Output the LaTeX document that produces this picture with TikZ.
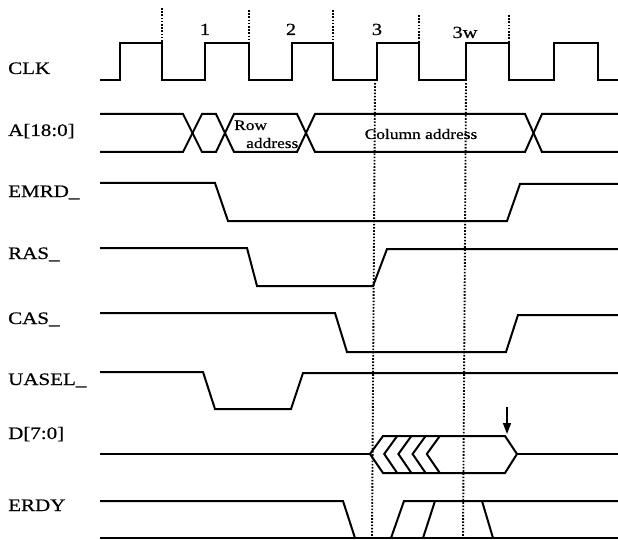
\documentclass[tikz,border=0pt]{standalone}
\usepackage{fontspec}
\setmainfont[FakeStretch=1.2,FakeBold=0.6]{Liberation Serif}
\usetikzlibrary{arrows.meta}
\tikzset{
  wave/.style={line width=2pt, line join=miter, black},
  guide/.style={line width=1.9pt, dash pattern=on 1.6pt off 1.6pt, black},
  siglabel/.style={anchor=base west, inner sep=0pt, font=\fontsize{17.5}{20}\selectfont},
  cyclabel/.style={anchor=base, inner sep=0pt, font=\fontsize{17}{20}\selectfont},
  boxtext/.style={inner sep=0pt, font=\fontsize{14.5}{16}\selectfont}
}
\begin{document}
\begin{tikzpicture}[x=1pt,y=-1pt]
\useasboundingbox (0,0) rectangle (618,540);

% signal labels
\node[siglabel] (lclk)   at (8,74)  {CLK};
\node[siglabel] (laddr)  at (8,136) {A[18:0]};
\node[siglabel] (lemrd)  at (8,197) {EMRD\_};
\node[siglabel] (lras)   at (8,259) {RAS\_};
\node[siglabel] (lcas)   at (8,324) {CAS\_};
\node[siglabel] (luasel) at (8,385) {UASEL\_};
\node[siglabel] (ld)     at (8,439) {D[7:0]};
\node[siglabel] (lerdy)  at (8,511) {ERDY};

% cycle labels
\node[cyclabel] (c1)  at (205,35) {1};
\node[cyclabel] (c2)  at (291,35) {2};
\node[cyclabel] (c3)  at (377,35) {3};
\node[cyclabel] (c3w) at (465,38) {3w};

% short guides above clock
\draw[guide] (162,8) -- (162,43);
\draw[guide] (249,10) -- (249,43);
\draw[guide] (333,10) -- (333,43);
\draw[guide] (419,15) -- (419,43);
\draw[guide] (509,15) -- (509,43);

% long guides
\draw[guide] (375,83) -- (372,540);
\draw[guide] (466,83) -- (463,540);

% CLK
\draw[wave] (100,80) -- (120,80) -- (120,43) -- (162,43) -- (162,80) -- (205,80) -- (205,43)
  -- (249,43) -- (249,80) -- (292,80) -- (292,43) -- (333,43) -- (333,80) -- (377,80)
  -- (377,43) -- (419,43) -- (419,80) -- (466,80) -- (466,43) -- (509,43) -- (509,80)
  -- (554,80) -- (554,43) -- (598,43) -- (598,80) -- (618,80);

% A[18:0]
\draw[wave] (100,114) -- (183,114) -- (202,152) -- (216,152) -- (234,114) -- (297,114)
  -- (315,152) -- (525,152) -- (542,114) -- (618,114);
\draw[wave] (100,152) -- (183,152) -- (202,114) -- (216,114) -- (234,152) -- (297,152)
  -- (315,114) -- (525,114) -- (542,152) -- (618,152);
\node[boxtext, anchor=base west] (trow)  at (234,130) {Row};
\node[boxtext, anchor=base west] (taddr) at (246,148) {address};
\node[boxtext] (tcol) at (421,134) {Column address};

% EMRD_
\draw[wave] (100,183) -- (215,183) -- (228,221) -- (507,221) -- (520,184) -- (618,184);
% RAS_
\draw[wave] (100,248) -- (247,248) -- (257,286) -- (373,286) -- (387,249) -- (618,249);
% CAS_
\draw[wave] (100,313) -- (335,313) -- (347,352) -- (506,352) -- (518,315) -- (618,315);
% UASEL_
\draw[wave] (100,372) -- (203,372) -- (215,409) -- (291,409) -- (303,373) -- (618,373);

% D[7:0]
\draw[wave] (100,454) -- (370,454);
\draw[wave] (383,436) -- (505,436) -- (517,454) -- (505,473) -- (383,473) -- (370,454) -- cycle;
\draw[wave] (517,454) -- (618,454);
\foreach \t in {384.2,398.4,412.6,426.8}{
  \draw[wave] (\t+13,436) -- (\t,454) -- (\t+13,473);
}
\draw[line width=1.5pt, -{Triangle[length=11pt,width=8pt]}] (507,407) -- (507,434);

% ERDY
\draw[wave] (100,501) -- (343,501) -- (355,538);
\draw[wave] (100,538) -- (618,538);
\draw[wave] (391,538) -- (404,501) -- (618,501);
\draw[wave] (423,538) -- (435,501);
\draw[wave] (482,501) -- (493,538);
\end{tikzpicture}
\end{document}
